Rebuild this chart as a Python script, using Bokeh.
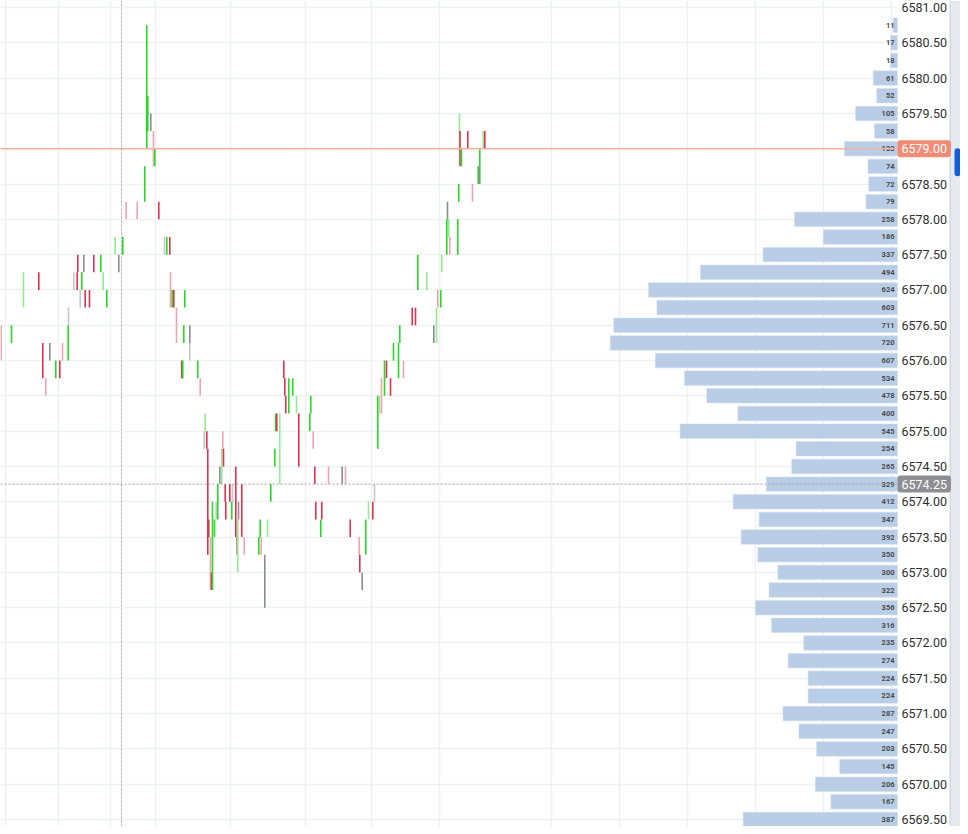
from bokeh.plotting import figure
from bokeh.models import (Range1d, FixedTicker, PrintfTickFormatter, Label,
                          BoxAnnotation, ColumnDataSource)
from bokeh.core.properties import value
from bokeh.embed import file_html
from bokeh.resources import INLINE

# ---------------- data ----------------
# volume profile (price level -> traded volume)
vp_price = [6580.75, 6580.50, 6580.25, 6580.00, 6579.75, 6579.50, 6579.25, 6579.00,
            6578.75, 6578.50, 6578.25, 6578.00, 6577.75, 6577.50, 6577.25, 6577.00,
            6576.75, 6576.50, 6576.25, 6576.00, 6575.75, 6575.50, 6575.25, 6575.00,
            6574.75, 6574.50, 6574.25, 6574.00, 6573.75, 6573.50, 6573.25, 6573.00,
            6572.75, 6572.50, 6572.25, 6572.00, 6571.75, 6571.50, 6571.25, 6571.00,
            6570.75, 6570.50, 6570.25, 6570.00, 6569.75, 6569.50]
vp_volume = [11, 17, 18, 61, 52, 105, 58, 133,
             74, 72, 79, 258, 186, 337, 494, 624,
             603, 711, 720, 607, 534, 478, 400, 545,
             254, 265, 329, 412, 347, 392, 350, 300,
             322, 356, 316, 235, 274, 224, 224, 287,
             247, 203, 145, 206, 167, 387]

# price scale tick labels
price_ticks = [6569.5 + 0.5 * i for i in range(24)]
# time grid positions
time_grid = [5, 58, 110, 155, 230, 305, 371, 439, 551, 619, 687, 755, 823, 891]

last_price = 6579.00
cross_price = 6574.25
cross_time = 121

# tick-bar segments: time, high, low, kind
# (G up, g up-faint, R down, r down-faint, K flat, k flat-faint)
seg_time = [0.7, 11, 23, 38.3, 42.3, 45.3, 49.3, 55.3, 59.3, 62,
            67.7, 68, 73.3, 76.7, 77.3, 79.7, 81.3, 83.3, 84.7, 89,
            93.3, 100.3, 102.7, 106.3, 114.7, 118.3, 122.3, 125.7, 136.7, 144.3,
            146.3, 147.3, 150.3, 153, 154.3, 158.3, 164, 166.3, 169.3, 170,
            171.7, 173.3, 176, 181.3, 182.3, 183.3, 184.3, 189.3, 189.3, 197.3,
            199.7, 203.7, 204.7, 206.3, 207.3, 208.3, 210, 211, 212, 214,
            215.7, 217.3, 219.3, 221.3, 222.3, 223, 224.7, 225.3, 229.3, 231.3,
            232, 235.3, 236.7, 237.3, 238, 241.3, 243.7, 258.3, 259.7, 260.7,
            264.3, 267, 270.3, 274.3, 275.3, 276.3, 279.3, 283.3, 284.3, 285.3,
            288.3, 292.3, 296, 298.3, 309.3, 310.3, 312.7, 314.3, 315.3, 320.3,
            321.3, 328, 341.7, 345, 349.7, 358.7, 359.3, 361.7, 365.3, 368,
            372.3, 374, 377.3, 379, 381, 384, 386, 390, 393, 398,
            399.3, 403, 411.7, 415, 417.3, 426.3, 433.3, 436, 437.3, 440.3,
            441.3, 446.3, 447, 448.3, 449.3, 457.3, 458.3, 459, 459.5, 461,
            467.3, 472, 477.7, 479.3, 482.7, 484.3]
seg_high = [6576.5, 6576.5, 6577.25, 6577.25, 6576.25, 6575.75, 6576.25, 6576.0, 6576.0, 6576.25,
            6576.5, 6576.75, 6577.25, 6577.25, 6577.5, 6577.0, 6577.25, 6577.5, 6577.0, 6577.0,
            6577.5, 6577.5, 6577.25, 6577.0, 6577.75, 6577.5, 6577.75, 6578.25, 6578.25, 6578.75,
            6580.75, 6579.75, 6579.5, 6579.25, 6579.0, 6578.25, 6577.75, 6577.75, 6577.75, 6577.25,
            6577.0, 6577.0, 6576.75, 6576.0, 6576.0, 6576.5, 6577.0, 6576.5, 6576.25, 6576.0,
            6575.75, 6575.0, 6575.25, 6575.0, 6574.75, 6573.75, 6573.5, 6573.0, 6574.0, 6573.75,
            6574.0, 6574.25, 6574.5, 6574.75, 6575.0, 6574.75, 6574.25, 6574.0, 6574.25, 6574.0,
            6574.25, 6574.5, 6573.5, 6573.75, 6574.0, 6574.25, 6573.5, 6573.5, 6573.75, 6573.5,
            6573.25, 6573.75, 6574.25, 6574.75, 6575.25, 6575.25, 6575.25, 6576.0, 6575.75, 6575.5,
            6575.75, 6575.75, 6575.5, 6575.25, 6575.25, 6575.5, 6575.0, 6574.5, 6574.0, 6573.75,
            6574.0, 6574.5, 6574.5, 6574.5, 6573.75, 6573.5, 6573.25, 6573.0, 6573.75, 6574.0,
            6574.0, 6574.25, 6575.5, 6575.5, 6575.75, 6576.0, 6576.0, 6575.75, 6576.25, 6576.25,
            6576.5, 6576.0, 6576.75, 6576.75, 6577.5, 6577.25, 6576.5, 6576.75, 6577.0, 6577.0,
            6577.5, 6578.0, 6578.25, 6578.0, 6577.75, 6578.0, 6578.5, 6579.5, 6579.25, 6579.0,
            6579.25, 6578.5, 6578.75, 6579.0, 6579.25, 6579.25]
seg_low = [6576.0, 6576.25, 6576.75, 6577.0, 6575.75, 6575.5, 6576.0, 6575.75, 6575.75, 6576.0,
           6576.0, 6576.5, 6577.0, 6577.0, 6577.25, 6576.75, 6577.0, 6577.25, 6576.75, 6576.75,
           6577.25, 6577.25, 6577.0, 6576.75, 6577.5, 6577.25, 6577.5, 6578.0, 6578.0, 6578.25,
           6579.0, 6579.25, 6579.25, 6578.75, 6578.75, 6578.0, 6577.5, 6577.5, 6577.5, 6576.75,
           6576.75, 6576.75, 6576.25, 6575.75, 6575.75, 6576.25, 6576.75, 6576.25, 6576.0, 6575.75,
           6575.5, 6574.75, 6575.0, 6574.75, 6573.25, 6573.5, 6572.75, 6572.75, 6572.75, 6573.5,
           6573.75, 6573.75, 6574.25, 6574.25, 6574.75, 6574.5, 6574.0, 6573.75, 6574.0, 6573.75,
           6574.0, 6573.5, 6573.25, 6573.0, 6573.75, 6573.5, 6573.25, 6573.25, 6573.5, 6573.25,
           6572.5, 6573.5, 6574.0, 6574.5, 6575.0, 6575.0, 6574.25, 6575.75, 6575.5, 6575.25,
           6575.25, 6575.5, 6575.25, 6574.5, 6575.0, 6575.25, 6574.75, 6574.25, 6573.75, 6573.5,
           6573.75, 6574.25, 6574.25, 6574.25, 6573.5, 6573.25, 6573.0, 6572.75, 6573.25, 6573.75,
           6573.75, 6574.0, 6574.75, 6575.25, 6575.25, 6575.5, 6575.75, 6575.5, 6576.0, 6575.75,
           6576.25, 6575.75, 6576.5, 6576.5, 6577.0, 6577.0, 6576.25, 6576.25, 6576.75, 6576.75,
           6577.25, 6577.5, 6578.0, 6577.75, 6577.5, 6577.5, 6578.25, 6579.0, 6578.75, 6578.75,
           6579.0, 6578.25, 6578.5, 6578.5, 6579.0, 6579.0]
seg_kind = list("rGgRRrKGRr" "GkkRRkGKRR" "RGgGgKGrrG" "GGKrGRkGRr" "GRrRGGGKkG"
                "rkgRRRrRGG" "kGKgrRRRRG" "kRRgKRrGGr" "KgGGGRgRRR" "GGgRGGrRRG"
                "RrKrRrRKGg" "RkGgrGRRGG" "GrRRGgKgrG" "gGKgrGGgRG" "RrKGgR")

kind_color = {"G": "#22dd22", "g": "#93ec93", "R": "#e2304f", "r": "#f4a3ae",
              "K": "#8a8d93", "k": "#c6c7ca"}

# ---------------- layout constants ----------------
W, H = 960, 826
PANE_RIGHT = 897          # right edge of the chart pane (start of price scale)
px_per_price = 70.61
top_label_y = 7           # pixel row of 6581.00
y_top = 6581.0 + top_label_y / px_per_price
y_bot = 6581.0 - (H - top_label_y) / px_per_price
vol_px = 0.399            # pixels per traded contract

p = figure(width=W, height=H, output_backend="svg", toolbar_location=None,
           x_range=Range1d(0, W), y_range=Range1d(y_bot, y_top),
           x_axis_location=None, y_axis_location="right",
           min_border_left=0, min_border_right=0, min_border_top=0, min_border_bottom=0,
           background_fill_color="white", border_fill_color="white")
p.outline_line_color = None
p.extra_x_ranges = {"vol": Range1d(start=PANE_RIGHT / vol_px, end=(PANE_RIGHT - W) / vol_px)}

yaxis = p.yaxis[0]
yaxis.ticker = FixedTicker(ticks=price_ticks)
yaxis.formatter = PrintfTickFormatter(format="%.2f")
yaxis.axis_line_color = None
yaxis.major_tick_line_color = None
yaxis.minor_tick_line_color = None
yaxis.major_tick_out = 0
yaxis.major_tick_in = 0
yaxis.major_label_standoff = 901 - W
yaxis.major_label_text_font = "Roboto"
yaxis.major_label_text_font_size = "12.5px"
yaxis.major_label_text_color = "#2f2f2f"

p.xgrid.ticker = FixedTicker(ticks=time_grid)
p.xgrid.grid_line_color = "#eff0f2"
p.xgrid.grid_line_width = 1.5
p.ygrid.grid_line_color = "#eff0f2"
p.ygrid.grid_line_width = 1.5

# blank price-scale area over the grid
p.add_layout(BoxAnnotation(left=PANE_RIGHT, right=W, fill_color="white", fill_alpha=1,
                           line_color=None, level="underlay"))

# side panel of the price scale (under the badges)
p.add_layout(BoxAnnotation(left=949, right=950.5, fill_color="#d5d9df", fill_alpha=1,
                           line_color=None, level="underlay"))
p.add_layout(BoxAnnotation(left=950.5, right=W, fill_color="#e6e9ee", fill_alpha=1,
                           line_color=None, level="underlay"))

# volume profile
vsrc = ColumnDataSource(dict(price=vp_price, vol=vp_volume, lab=[str(v) for v in vp_volume]))
p.hbar(y="price", left=0, right="vol", height=0.205, source=vsrc, x_range_name="vol",
       fill_color="#b9cde6", line_color="#d3dff0", line_width=0.5)
p.text(x=0, y="price", text="lab", source=vsrc, x_range_name="vol", x_offset=-3,
       text_align="right", text_baseline="middle", text_font=value("Roboto"),
       text_font_size="7.5px", text_font_style="bold", text_color="#4a4a4a")

# tick bars
ssrc = ColumnDataSource(dict(t=seg_time, hi=seg_high, lo=seg_low,
                             c=[kind_color[k] for k in seg_kind]))
p.segment(x0="t", y0="hi", x1="t", y1="lo", source=ssrc, line_color="c", line_width=1.6)

# last price line & crosshair
p.segment(x0=[0], y0=[last_price], x1=[PANE_RIGHT], y1=[last_price],
          line_color="#f6b0a2", line_width=1.5)
p.segment(x0=[0], y0=[cross_price], x1=[PANE_RIGHT], y1=[cross_price],
          line_color="#a3a3a3", line_width=1, line_dash="2 2")
p.segment(x0=[cross_time], y0=[y_bot], x1=[cross_time], y1=[y_top],
          line_color="#a3a3a3", line_width=1, line_dash="2 2")

# price scale badges
for price, col in ((last_price, "#f28b76"), (cross_price, "#8e8f92")):
    p.add_layout(Label(x=PANE_RIGHT, y=price, text="%.2f" % price,
                       text_color="white", text_font="Roboto", text_font_size="12.5px",
                       text_baseline="middle", text_align="left",
                       background_fill_color=col, padding=4, border_radius=3))

# scroll handle
p.add_layout(BoxAnnotation(left=954, right=W, top=last_price + 0.006,
                           bottom=last_price - 0.39, fill_color="#0f5fd8", fill_alpha=1,
                           line_color=None, border_radius=3))

open("out.html", "w").write(file_html(p, INLINE))
